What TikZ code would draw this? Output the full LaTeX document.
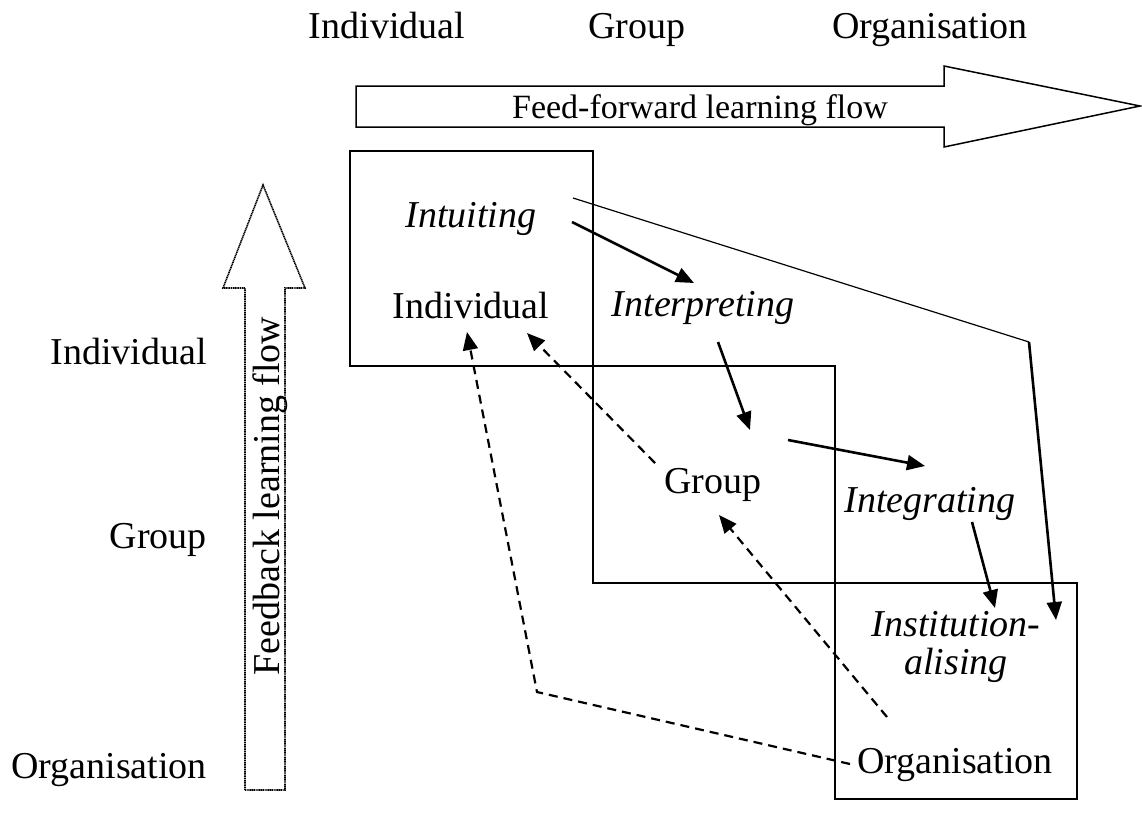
\documentclass[tikz,border=0pt]{standalone}
\usepackage{fontspec}
\setmainfont{Liberation Serif}
\usetikzlibrary{arrows.meta}
\tikzset{
  lbl/.style={anchor=base, inner sep=0pt, font=\fontsize{38}{40}\selectfont},
  lblr/.style={anchor=base east, inner sep=0pt, font=\fontsize{38}{40}\selectfont},
  proc/.style={anchor=base, inner sep=0pt, font=\fontsize{38}{40}\selectfont\itshape},
  flowtxt/.style={inner sep=0pt, font=\fontsize{34}{36}\selectfont},
  fbtxt/.style={inner sep=0pt, font=\fontsize{38}{40}\selectfont},
  box/.style={draw=black, line width=1.4pt},
  fwd/.style={draw=black, line width=2.6pt, -{Triangle[length=18pt,width=15pt]}},
  thin/.style={draw=black, line width=1.2pt},
  back/.style={draw=black, line width=2.2pt, dash pattern=on 9pt off 6pt, -{Triangle[length=18pt,width=15pt]}},
  bigarrow/.style={draw=black, line width=1.5pt, line join=miter},
  dotarrow/.style={draw=black, line width=1.6pt, dash pattern=on 1.2pt off 0.6pt}
}
\begin{document}
\begin{tikzpicture}[x=1pt,y=-1pt]
\useasboundingbox (0,0) rectangle (1142,817);
% top labels
\node[lbl] (tInd) at (387,38) {Individual};
\node[lbl] (tGrp) at (637,38) {Group};
\node[lbl] (tOrg) at (930,38) {Organisation};
% left labels
\node[lblr] (lInd) at (207,364) {Individual};
\node[lblr] (lGrp) at (207,548) {Group};
\node[lblr] (lOrg) at (207,778) {Organisation};
% feed-forward arrow
\draw[bigarrow] (356,86) -- (944,86) -- (944,66) -- (1140,106) -- (944,147) -- (944,127) -- (356,127) -- cycle;
\node[flowtxt, anchor=base] (ff) at (700,118) {Feed-forward learning flow};
% feedback arrow
\draw[dotarrow] (245,790) -- (245,288) -- (223,288) -- (263,185) -- (305,288) -- (285,288) -- (285,790) -- cycle;
\node[fbtxt, rotate=90, anchor=base] (fb) at (279,496) {Feedback learning flow};
% boxes
\draw[box] (350,151) rectangle (593,366);
\draw[box] (593,366) rectangle (835,583);
\draw[box] (835,583) rectangle (1077,799);
% texts inside
\node[proc] (intu) at (471,227) {Intuiting};
\node[lbl] (bInd) at (471,318) {Individual};
\node[proc] (interp) at (703,316) {Interpreting};
\node[lbl] (bGrp) at (713,493) {Group};
\node[proc] (integ) at (930,512) {Integrating};
\node[proc] (inst1) at (956,636) {Institution-};
\node[proc] (inst2) at (956,674) {alising};
\node[lbl] (bOrg) at (955,773) {Organisation};
% coordinates for connectors
\coordinate (a1s) at (572,222);
\coordinate (a1e) at (694,283);
\coordinate (a2s) at (718,342);
\coordinate (a2e) at (750,430);
\coordinate (a3s) at (788,440);
\coordinate (a3e) at (925,466);
\coordinate (a4s) at (972,522);
\coordinate (a4e) at (995,608);
\coordinate (a5s) at (573,198);
\coordinate (a5c) at (1029,342);
\coordinate (a5e) at (1056,620);
\coordinate (b1s) at (655,463);
\coordinate (b1e) at (527,333);
\coordinate (b2s) at (887,717);
\coordinate (b2e) at (719,515);
\coordinate (b3s) at (850,764);
\coordinate (b3c) at (537,692);
\coordinate (b3e) at (467,332);
% forward connectors
\draw[fwd] (a1s) -- (a1e);
\draw[fwd] (a2s) -- (a2e);
\draw[fwd] (a3s) -- (a3e);
\draw[fwd] (a4s) -- (a4e);
\draw[thin] (a5s) -- (a5c);
\draw[fwd] (a5c) -- (a5e);
% feedback connectors
\draw[back] (b1s) -- (b1e);
\draw[back] (b2s) -- (b2e);
\draw[back] (b3s) -- (b3c) -- (b3e);
\end{tikzpicture}
\end{document}
